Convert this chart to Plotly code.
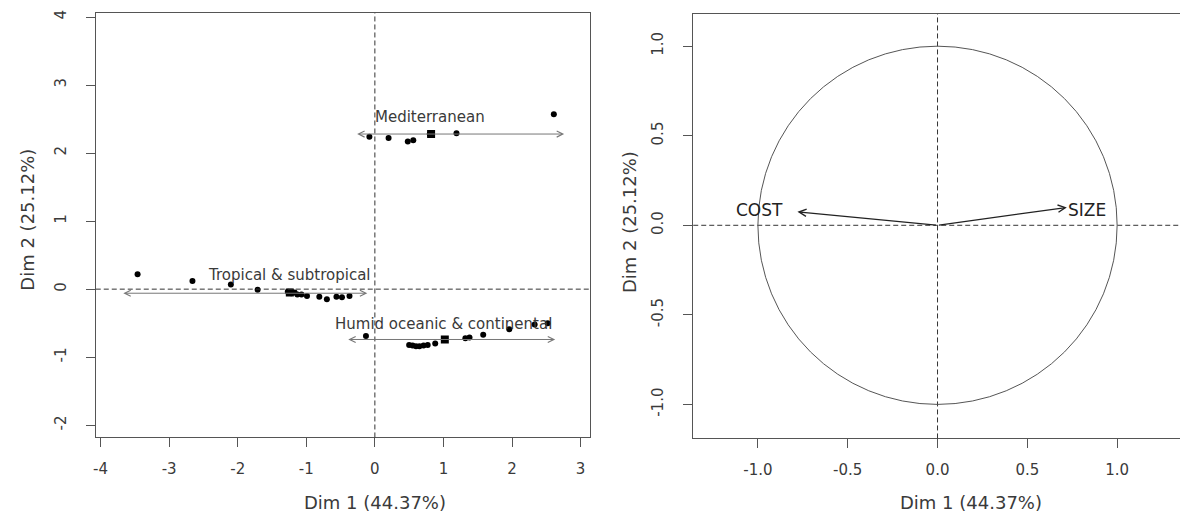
import plotly.graph_objects as go

# ---------------- data ----------------
groups = ["Mediterranean", "Tropical & subtropical", "Humid oceanic & continental"]

med_x = [2.61, -0.08, 0.20, 0.48, 0.56, 1.19, 0.80]
med_y = [2.57, 2.24, 2.22, 2.17, 2.19, 2.29, 2.28]

trop_x = [-3.46, -2.66, -2.10, -1.71, -1.27, -1.22, -1.17, -1.13, -1.07, -0.99,
          -0.81, -0.70, -0.56, -0.48, -0.37]
trop_y = [0.22, 0.12, 0.07, -0.01, -0.04, -0.06, -0.05, -0.08, -0.08, -0.10,
          -0.11, -0.15, -0.11, -0.12, -0.10]

hum_x = [-0.13, 0.50, 0.55, 0.60, 0.65, 0.71, 0.77, 0.88, 1.32, 1.38, 1.58,
         1.96, 2.33, 2.52]
hum_y = [-0.69, -0.82, -0.83, -0.84, -0.84, -0.83, -0.82, -0.80, -0.72, -0.71,
         -0.67, -0.59, -0.52, -0.50]

centroid_x = [0.82, -1.24, 1.02]
centroid_y = [2.28, -0.05, -0.74]

interval_lo = [-0.28, -3.69, -0.41]
interval_hi = [2.76, -0.11, 2.63]
interval_y = [2.28, -0.06, -0.74]

label_x = [0.80, -1.24, 1.00]
label_y = [2.53, 0.21, -0.51]

var_names = ["COST", "SIZE"]
var_x = [-0.78, 0.72]
var_y = [0.075, 0.10]
var_label_x = [-0.99, 0.83]
var_label_y = [0.088, 0.088]

xt1 = [-4, -3, -2, -1, 0, 1, 2, 3]
xt1_text = ["-4", "-3", "-2", "-1", "0", "1", "2", "3"]
yt1 = [-2, -1, 0, 1, 2, 3, 4]
yt1_text = ["-2", "-1", "0", "1", "2", "3", "4"]
t2 = [-1.0, -0.5, 0.0, 0.5, 1.0]
t2_text = ["-1.0", "-0.5", "0.0", "0.5", "1.0"]

x_title = "Dim 1 (44.37%)"
y_title = "Dim 2 (25.12%)"

# ---------------- figure ----------------
W, H = 1180, 515
FONT = "DejaVu Sans"
AXC = "#555555"
TXT = "#3a3a3a"

fig = go.Figure()

all_x = med_x + trop_x + hum_x
all_y = med_y + trop_y + hum_y
fig.add_trace(go.Scatter(x=all_x, y=all_y, mode="markers",
                         marker=dict(color="black", size=6, symbol="circle"),
                         xaxis="x", yaxis="y", showlegend=False, hoverinfo="skip"))
fig.add_trace(go.Scatter(x=centroid_x, y=centroid_y, mode="markers",
                         marker=dict(color="black", size=8, symbol="square"),
                         xaxis="x", yaxis="y", showlegend=False, hoverinfo="skip"))

def px2x(p):
    return p / W

def px2y(p):
    return 1 - p / H

axis_common = dict(showgrid=False, zeroline=False, showline=True, linecolor=AXC,
                   linewidth=1, ticks="outside", ticklen=9, tickcolor=AXC,
                   tickwidth=1, tickfont=dict(family=FONT, size=15, color=TXT))

fig.update_layout(
    width=W, height=H,
    margin=dict(l=0, r=0, t=0, b=0),
    paper_bgcolor="white", plot_bgcolor="white",
    showlegend=False,
    xaxis=dict(domain=[px2x(93), px2x(588)], range=[-4.07, 3.13],
               tickvals=xt1, ticktext=xt1_text, mirror=True, anchor="y",
               ticklabelstandoff=9, **axis_common),
    yaxis=dict(domain=[px2y(437), px2y(10)], range=[-2.18, 4.06],
               tickvals=yt1, ticktext=yt1_text, mirror=True, anchor="x",
               tickangle=-90, ticklabelstandoff=14, **axis_common),
    xaxis2=dict(domain=[px2x(692), 1.0], range=[-1.36, 1.35],
                tickvals=t2, ticktext=t2_text, mirror=True, anchor="y2",
                ticklabelstandoff=9, **axis_common),
    yaxis2=dict(domain=[px2y(438), px2y(11)], range=[-1.19, 1.18],
                tickvals=t2, ticktext=t2_text, mirror=False, anchor="x2",
                tickangle=-90, ticklabelstandoff=14, **axis_common),
)

shapes = []
dash = dict(color="#333333", width=1, dash="5px,3px")
# left panel reference lines
shapes.append(dict(type="line", xref="x", yref="y domain", x0=0, x1=0, y0=0, y1=1, line=dash))
shapes.append(dict(type="line", xref="x domain", yref="y", x0=0, x1=1, y0=0, y1=0, line=dash))
# right panel reference lines
shapes.append(dict(type="line", xref="x2", yref="y2 domain", x0=0, x1=0, y0=0, y1=1, line=dash))
shapes.append(dict(type="line", xref="x2 domain", yref="y2", x0=0, x1=1, y0=0, y1=0, line=dash))
# correlation circle
shapes.append(dict(type="circle", xref="x2", yref="y2", x0=-1, y0=-1, x1=1, y1=1,
                   line=dict(color="#555555", width=1)))
fig.update_layout(shapes=shapes)

ann = []
# interval arrows (double-headed)
for lo, hi, yy in zip(interval_lo, interval_hi, interval_y):
    ann.append(dict(x=hi, y=yy, ax=lo, ay=yy, xref="x", yref="y", axref="x", ayref="y",
                    showarrow=True, arrowhead=5, startarrowhead=5, arrowside="end+start",
                    arrowsize=1.2, startarrowsize=1.2, arrowwidth=1, arrowcolor="#777777",
                    text=""))
# group labels
for g, lx, ly in zip(groups, label_x, label_y):
    ann.append(dict(x=lx, y=ly, xref="x", yref="y", text=g, showarrow=False,
                    font=dict(family=FONT, size=15, color=TXT)))
# variable arrows
for nm, vx, vy, lx, ly in zip(var_names, var_x, var_y, var_label_x, var_label_y):
    ann.append(dict(x=vx, y=vy, ax=0, ay=0, xref="x2", yref="y2", axref="x2", ayref="y2",
                    showarrow=True, arrowhead=5, arrowsize=1.2, arrowwidth=1.2,
                    arrowcolor="#222222", text=""))
    ann.append(dict(x=lx, y=ly, xref="x2", yref="y2", text=nm, showarrow=False,
                    font=dict(family=FONT, size=17, color="#222222")))
# axis titles
tf = dict(family=FONT, size=18, color=TXT)
ann.append(dict(x=px2x(373), y=px2y(502), xref="paper", yref="paper", text=x_title,
                showarrow=False, font=tf, xanchor="center", yanchor="middle"))
ann.append(dict(x=px2x(970), y=px2y(502), xref="paper", yref="paper", text=x_title,
                showarrow=False, font=tf, xanchor="center", yanchor="middle"))
ann.append(dict(x=px2x(25), y=px2y(218), xref="paper", yref="paper", text=y_title,
                showarrow=False, font=tf, textangle=-90, xanchor="center", yanchor="middle"))
ann.append(dict(x=px2x(628), y=px2y(220), xref="paper", yref="paper", text=y_title,
                showarrow=False, font=tf, textangle=-90, xanchor="center", yanchor="middle"))
fig.update_layout(annotations=ann)

fig.write_html("out.html",
               config={"displayModeBar": False},
               post_script="document.body.style.margin='0';document.body.style.padding='0';"
                           "document.body.style.overflow='hidden';")
